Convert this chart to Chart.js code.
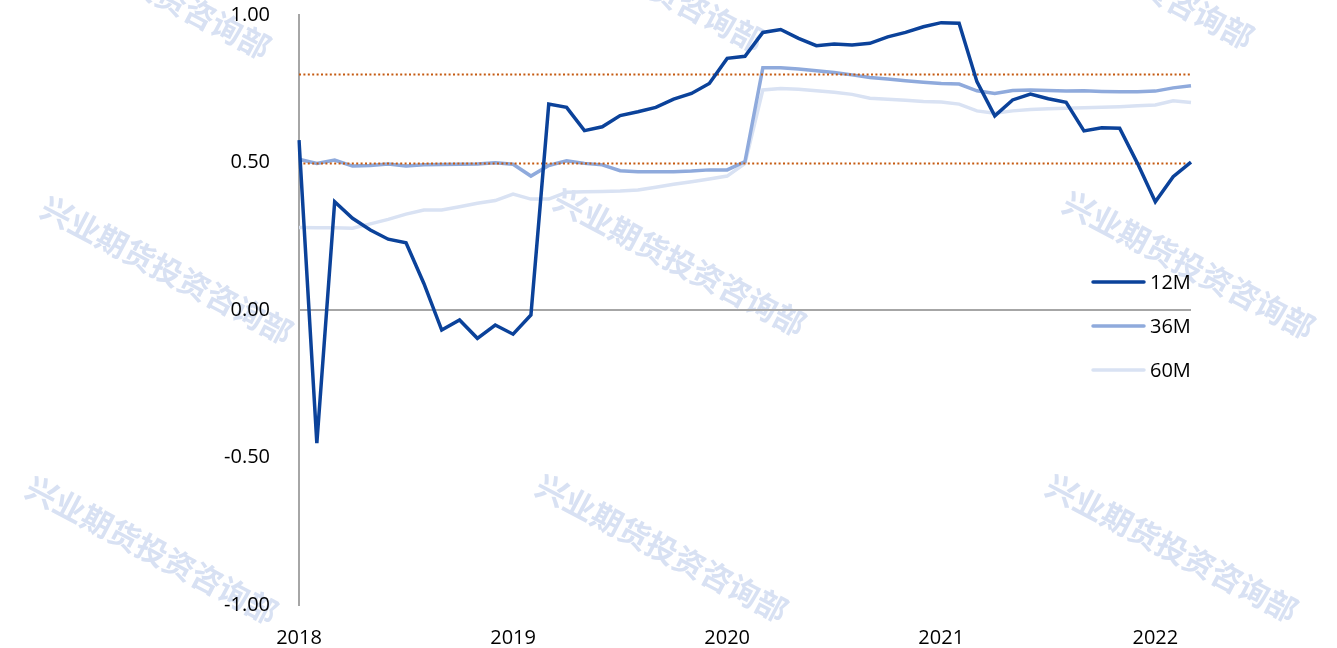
<!DOCTYPE html>
<html><head><meta charset="utf-8">
<script src="https://cdn.jsdelivr.net/npm/chart.js@4/dist/chart.umd.min.js"></script>
<style>html,body{margin:0;padding:0;background:#fff;} #wrap{width:1337px;height:648px;position:relative;background:#fff;}</style>
</head><body><div id="wrap"><canvas id="c" width="1337" height="648"></canvas></div>
<script>
const months = [
 '2018-01','2018-02','2018-03','2018-04','2018-05','2018-06','2018-07','2018-08','2018-09','2018-10','2018-11','2018-12',
 '2019-01','2019-02','2019-03','2019-04','2019-05','2019-06','2019-07','2019-08','2019-09','2019-10','2019-11','2019-12',
 '2020-01','2020-02','2020-03','2020-04','2020-05','2020-06','2020-07','2020-08','2020-09','2020-10','2020-11','2020-12',
 '2021-01','2021-02','2021-03','2021-04','2021-05','2021-06','2021-07','2021-08','2021-09','2021-10','2021-11','2021-12',
 '2022-01','2022-02','2022-03'];
const seriesNames = ['12M','36M','60M'];
const s12M = [0.576,-0.451,0.367,0.311,0.271,0.240,0.228,0.090,-0.068,-0.034,-0.096,-0.051,
 -0.082,-0.017,0.698,0.687,0.608,0.621,0.659,0.672,0.687,0.715,0.734,0.768,
 0.853,0.860,0.941,0.951,0.921,0.896,0.902,0.898,0.904,0.926,0.941,0.960,
 0.974,0.972,0.774,0.658,0.712,0.732,0.716,0.704,0.607,0.618,0.616,0.497,
 0.367,0.452,0.501];
const s36M = [0.511,0.497,0.508,0.488,0.490,0.495,0.488,0.492,0.493,0.494,0.495,0.499,
 0.494,0.454,0.490,0.506,0.497,0.492,0.472,0.469,0.469,0.469,0.471,0.475,
 0.475,0.503,0.821,0.821,0.817,0.811,0.805,0.797,0.788,0.783,0.777,0.772,
 0.768,0.766,0.743,0.734,0.744,0.746,0.744,0.742,0.743,0.741,0.740,0.740,
 0.742,0.753,0.760];
const s60M = [0.280,0.279,0.279,0.277,0.292,0.307,0.325,0.339,0.339,0.350,0.362,0.371,
 0.393,0.376,0.376,0.399,0.401,0.402,0.403,0.407,0.416,0.426,0.435,0.444,
 0.454,0.497,0.746,0.751,0.748,0.743,0.738,0.731,0.718,0.714,0.711,0.707,
 0.705,0.698,0.675,0.667,0.675,0.680,0.682,0.684,0.686,0.687,0.689,0.692,
 0.695,0.709,0.703];
const refLines = [0.5, 0.8];
const yMin = -1, yMax = 1, yStep = 0.5;
const watermarkText = '兴业期货投资咨询部';
const watermarkCenters = [[145,-15],[638,-22],[1128,-25],[167,270],[680,262],[1189,265],[152,550],[662,548],[1172,548]];

const colors = ['#0B429A','#8FAADC','#D9E2F3'];
const FONT = '"Open Sans", "Noto Sans", sans-serif';

const watermarkPlugin = {
  id:'wm',
  beforeDraw(chart){
    const ctx = chart.ctx;
    ctx.save();
    ctx.fillStyle = '#fff';
    ctx.fillRect(0,0,chart.width,chart.height);
    ctx.fillStyle = '#D8E1F3';
    ctx.font = 'bold 31px "Noto Sans CJK SC"';
    ctx.textAlign = 'center';
    ctx.textBaseline = 'middle';
    for (const [cx,cy] of watermarkCenters){
      ctx.save();
      ctx.translate(cx,cy);
      ctx.rotate(27.8*Math.PI/180);
      ctx.fillText(watermarkText,0,0);
      ctx.restore();
    }
    ctx.restore();
  }
};

const refLinePlugin = {
  id:'refl',
  afterDatasetDraw(chart,args){
    if (args.index !== 1) return;
    const ctx = chart.ctx, x = chart.scales.x, y = chart.scales.y;
    const x0 = x.getPixelForValue(0), x1 = x.getPixelForValue(months.length-1);
    ctx.save();
    ctx.strokeStyle = '#C55A11';
    ctx.lineWidth = 2;
    ctx.setLineDash([2,2.4]);
    for (const v of refLines){
      const py = Math.round(y.getPixelForValue(v))+0.5;
      ctx.beginPath(); ctx.moveTo(x0,py); ctx.lineTo(x1,py); ctx.stroke();
    }
    ctx.restore();
  }
};

const legendPlugin = {
  id:'lg',
  afterDraw(chart){
    const ctx = chart.ctx;
    ctx.save();
    ctx.font = '20px ' + FONT;
    ctx.textBaseline = 'middle';
    ctx.textAlign = 'left';
    chart.data.datasets.forEach((ds,i)=>{
      const yy = 282 + i*44;
      ctx.strokeStyle = ds.borderColor; ctx.lineWidth = 3.5; ctx.lineCap='round';
      ctx.beginPath(); ctx.moveTo(1093,yy); ctx.lineTo(1144,yy); ctx.stroke();
      ctx.fillStyle = '#000';
      ctx.fillText(ds.label,1150,yy+1);
    });
    ctx.restore();
  }
};

new Chart(document.getElementById('c'),{
  type:'line',
  data:{
    labels: months,
    datasets:[
      {label:seriesNames[0],data:s12M,borderColor:colors[0],borderWidth:3.5,pointRadius:0,tension:0},
      {label:seriesNames[1],data:s36M,borderColor:colors[1],borderWidth:3.5,pointRadius:0,tension:0},
      {label:seriesNames[2],data:s60M,borderColor:colors[2],borderWidth:3.5,pointRadius:0,tension:0}
    ]
  },
  options:{
    responsive:false, devicePixelRatio:1, animation:false,
    layout:{padding:{left:0,top:15,right:146,bottom:0}},
    plugins:{legend:{display:false},tooltip:{enabled:false}},
    scales:{
      x:{
        type:'category', offset:false,
        grid:{display:false}, border:{display:false},
        ticks:{autoSkip:false,maxRotation:0,minRotation:0,padding:13,color:'#000',font:{size:20,family:FONT},
          callback:function(v,i){ const m = months[i]; return m.endsWith('-01') ? m.slice(0,4) : null; }},
        afterFit(s){ s.height = 43; }
      },
      y:{
        min:yMin,max:yMax,
        grid:{drawTicks:false,lineWidth:2,color:(c)=> c.tick && c.tick.value===0 ? '#A6A6A6' : 'rgba(0,0,0,0)'},
        border:{display:true,color:'#A6A6A6',width:2},
        ticks:{stepSize:yStep,padding:29,color:'#000',font:{size:20,family:FONT},callback:(v)=>Number(v).toFixed(2)},
        afterFit(s){ s.width = 299; s.paddingTop = 0; s.paddingBottom = 0; }
      }
    }
  },
  plugins:[watermarkPlugin,refLinePlugin,legendPlugin]
});
</script></body></html>
